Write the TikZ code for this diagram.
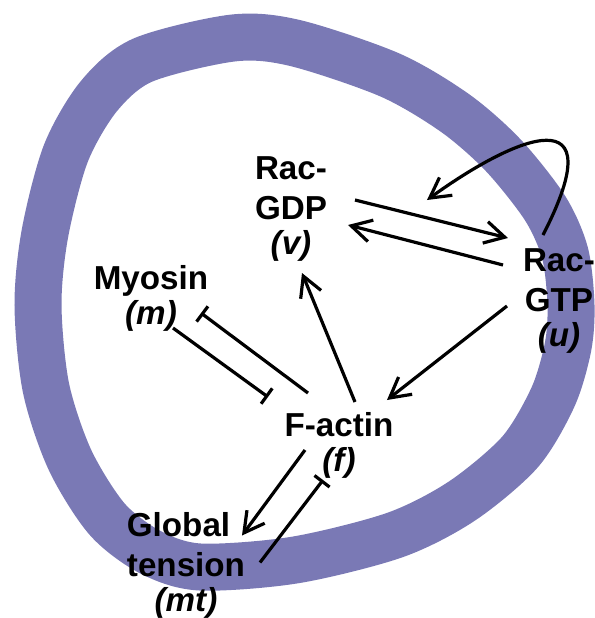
\documentclass[tikz,border=0pt]{standalone}
\usepackage{fontspec}
\setmainfont{Liberation Sans}
\usetikzlibrary{arrows.meta}

\definecolor{cellring}{RGB}{122,121,181}

\begin{document}
\begin{tikzpicture}[
  x=0.5pt, y=-0.5pt,
  line width=1.6pt,
  cell/.style={draw=cellring, line width=23.5pt},
  species/.style={font=\fontsize{16.6}{20}\selectfont\bfseries, align=center, inner sep=0pt},
  act/.style={-{Straight Barb[length=10pt, width=11pt]}},
  inh/.style={-{Bar[width=9.5pt]}},
]
  \useasboundingbox (0,0) rectangle (595,618);

  % Cell boundary
  \draw[cell] plot[smooth cycle] coordinates {
    (233,38) (295,43) (390,75) (455,113) (503,155) (545,208) (565,253) (571,305)
    (568,347) (553,397) (520,452) (462,501) (395,535) (295,560) (200,567) (150,552)
    (107,519) (70,460) (46,388) (38,305) (45,233) (66,153) (99,96) (143,60)};

  % Species
  \node[species] (gdp)  at (291,209.5) {Rac-\\GDP\\[-2.5pt]\textit{(v)}};
  \node[species] (gtp)  at (559,301.5) {Rac-\\GTP\\[-2.5pt]\textit{(u)}};
  \node[species] (myo)  at (151,298.5) {Myosin\\[-2.5pt]\textit{(m)}};
  \node[species] (fact) at (339,445.5) {F-actin\\[-2.5pt]\textit{(f)}};
  \node[species] (ten)  at (186,565.5) {Global\hspace*{0.45em}\\tension\\[-2.5pt]\textit{(mt)}};

  % Rac-GDP <-> Rac-GTP
  \draw[act] ([shift={(64,-9.5)}]gdp.center) -- ([shift={(-51,-63.5)}]gtp.center);
  \draw[act] ([shift={(-56,-36.5)}]gtp.center) -- ([shift={(57,15.5)}]gdp.center);
  % Rac-GTP feedback
  \draw[act] ([shift={(-16,-66.5)}]gtp.center)
    .. controls +(72,-140) and +(90,-65) .. ([shift={(136,-9.5)}]gdp.center);

  % Rac-GTP -> F-actin -> Rac-GDP
  \draw[act] ([shift={(-52,4.5)}]gtp.center) -- ([shift={(48,-45.5)}]fact.center);
  \draw[act] ([shift={(16,-43.5)}]fact.center) -- ([shift={(11,63.5)}]gdp.center);

  % F-actin -| Myosin -| F-actin
  \draw[inh] ([shift={(-31,-52.5)}]fact.center) -- ([shift={(50,14.5)}]myo.center);
  \draw[inh] ([shift={(22,29.5)}]myo.center) -- ([shift={(-71,-48.5)}]fact.center);

  % F-actin -> Global tension -| F-actin
  \draw[act] ([shift={(-34,4.5)}]fact.center) -- ([shift={(56,-30)}]ten.center);
  \draw[inh] ([shift={(74,-3)}]ten.center) -- ([shift={(-16,34.5)}]fact.center);
\end{tikzpicture}
\end{document}
